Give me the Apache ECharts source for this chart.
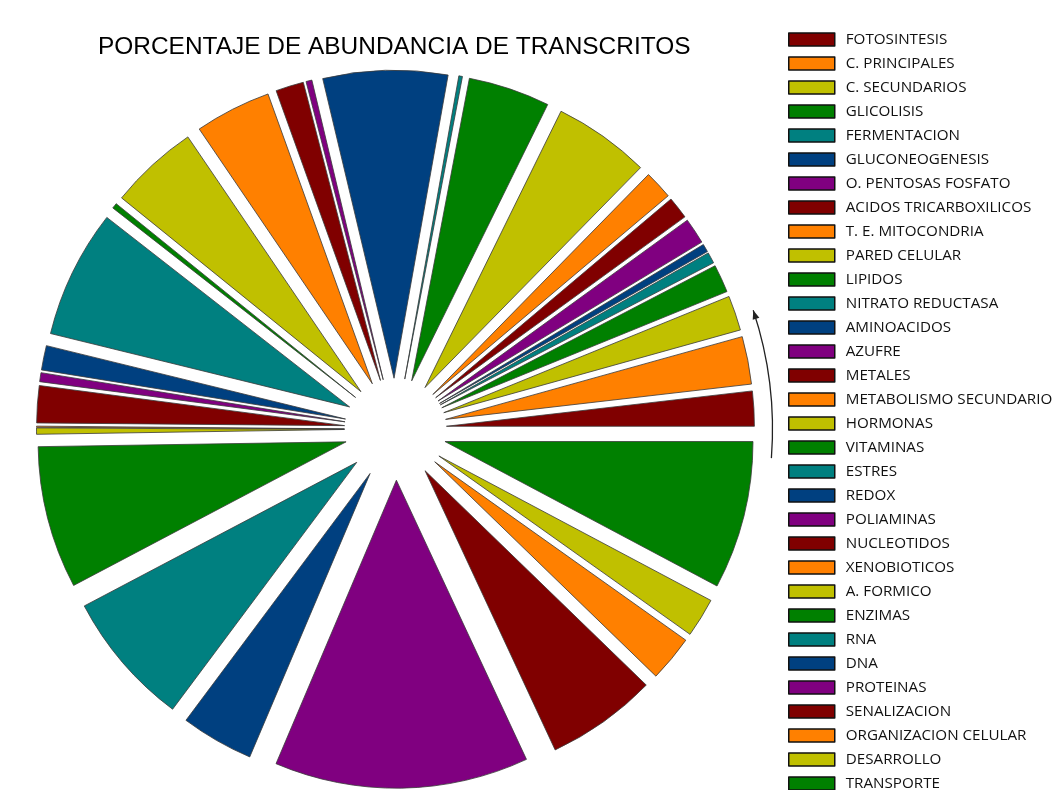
<!DOCTYPE html>
<html>
<head>
<meta charset="utf-8">
<script src="https://cdn.jsdelivr.net/npm/echarts@6/dist/echarts.min.js"></script>
<style>
  html, body { margin: 0; padding: 0; background: #fff; }
  #chart { width: 1052px; height: 790px; }
</style>
</head>
<body>
<div id="chart"></div>
<script>
// Transcript categories, in drawing order (counter-clockwise from 3 o'clock)
const categories = [
  'FOTOSINTESIS', 'C. PRINCIPALES', 'C. SECUNDARIOS', 'GLICOLISIS', 'FERMENTACION',
  'GLUCONEOGENESIS', 'O. PENTOSAS FOSFATO', 'ACIDOS TRICARBOXILICOS', 'T. E. MITOCONDRIA',
  'PARED CELULAR', 'LIPIDOS', 'NITRATO REDUCTASA', 'AMINOACIDOS', 'AZUFRE', 'METALES',
  'METABOLISMO SECUNDARIO', 'HORMONAS', 'VITAMINAS', 'ESTRES', 'REDOX', 'POLIAMINAS',
  'NUCLEOTIDOS', 'XENOBIOTICOS', 'A. FORMICO', 'ENZIMAS', 'RNA', 'DNA', 'PROTEINAS',
  'SENALIZACION', 'ORGANIZACION CELULAR', 'DESARROLLO', 'TRANSPORTE'
];

// Percentage of transcript abundance per category
const percentages = [
  1.83, 2.50, 1.83, 1.47, 0.58,
  0.42, 1.36, 1.17, 1.50,
  5.06, 4.28, 0.19, 6.53, 0.31, 1.47,
  4.00, 4.67, 0.28, 6.72, 1.28, 0.47,
  1.94, 0.06, 0.33, 7.47, 7.08, 3.81, 13.33,
  5.81, 2.42, 2.06, 7.77
];

// Seven-colour cycle used for the slices
const palette = ['#800000', '#FF8000', '#C0C000', '#008000', '#008080', '#004080', '#800080'];

const titleText = 'PORCENTAJE DE ABUNDANCIA DE TRANSCRITOS';

// Pie geometry
const CX = 395.5, CY = 429.2, R = 308, EXPLODE = 51;

const chart = echarts.init(document.getElementById('chart'), null, { renderer: 'canvas' });

const pieData = categories.map((name, i) => ({
  name: name,
  value: percentages[i],
  selected: true,
  itemStyle: { color: palette[i % palette.length] }
}));

// Direction arrow beside the pie (counter-clockwise)
const arrowR = 377;
const a0 = -4.4 * Math.PI / 180, a1 = 18.4 * Math.PI / 180;
const tipX = CX + arrowR * Math.cos(a1), tipY = CY - arrowR * Math.sin(a1);
const tangent = [-Math.sin(a1), -Math.cos(a1)]; // screen-space direction of travel
const normal = [Math.cos(a1), -Math.sin(a1)];
const headLen = 9, headHalf = 3.5;
const baseX = tipX - tangent[0] * headLen, baseY = tipY - tangent[1] * headLen;

chart.setOption({
  animation: false,
  backgroundColor: '#ffffff',
  title: {
    text: titleText,
    left: 98,
    top: 35,
    padding: 0,
    textStyle: {
      fontFamily: 'Liberation Sans, Arial, sans-serif',
      fontSize: 24.45,
      fontWeight: 'normal',
      color: '#000'
    }
  },
  legend: {
    orient: 'vertical',
    left: 788,
    top: 32,
    height: 1000,
    padding: 0,
    itemWidth: 46,
    itemHeight: 13,
    itemGap: 9,
    selectedMode: false,
    icon: 'rect',
    itemStyle: { borderColor: '#111', borderWidth: 1.5 },
    textStyle: {
      fontFamily: 'Open Sans, sans-serif',
      fontSize: 15.2,
      lineHeight: 13,
      height: 13,
      color: '#111',
      padding: [0, 0, 0, 6]
    },
    data: categories
  },
  series: [{
    type: 'pie',
    center: [CX, CY],
    radius: [0, R],
    startAngle: 0,
    clockwise: false,
    selectedMode: 'multiple',
    selectedOffset: EXPLODE,
    avoidLabelOverlap: false,
    minAngle: 0,
    label: { show: false },
    labelLine: { show: false },
    emphasis: { disabled: true },
    itemStyle: { borderColor: '#3a3a3a', borderWidth: 0.8 },
    select: { itemStyle: { borderColor: '#3a3a3a', borderWidth: 0.8 } },
    data: pieData
  }],
  graphic: [
    {
      type: 'arc',
      shape: { cx: CX, cy: CY, r: arrowR, startAngle: -a1, endAngle: -a0, clockwise: true },
      style: { stroke: '#222', lineWidth: 1.3, fill: null }
    },
    {
      type: 'polygon',
      shape: {
        points: [
          [tipX, tipY],
          [baseX + normal[0] * headHalf, baseY + normal[1] * headHalf],
          [baseX - normal[0] * headHalf, baseY - normal[1] * headHalf]
        ]
      },
      style: { fill: '#222' }
    }
  ]
});
</script>
</body>
</html>
